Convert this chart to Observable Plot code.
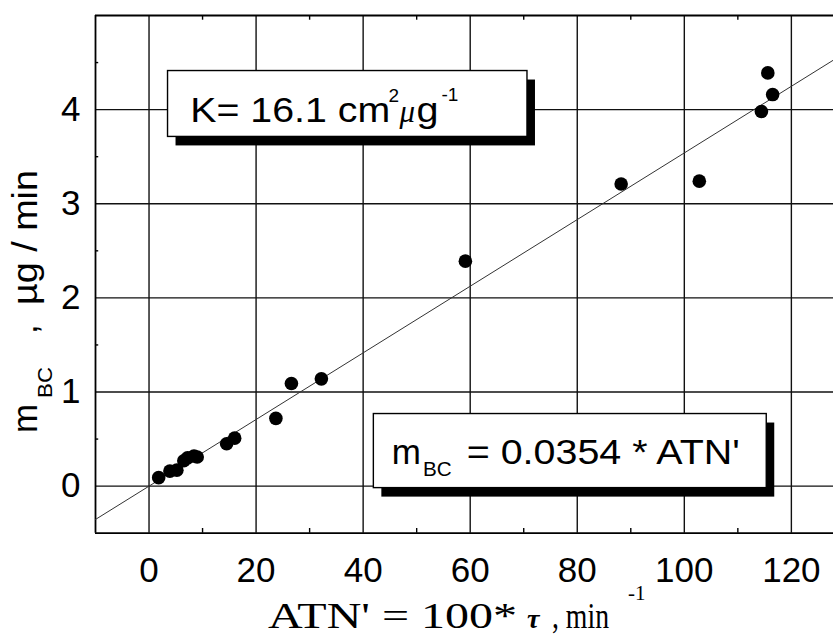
<!DOCTYPE html>
<html>
<head>
<meta charset="utf-8">
<script src="https://cdn.jsdelivr.net/npm/d3@7"></script>
<script src="https://cdn.jsdelivr.net/npm/@observablehq/plot@0.6"></script>
<style>
  html, body { margin: 0; padding: 0; background: #fff; }
  #chart { width: 833px; height: 636px; }
</style>
</head>
<body>
<div id="chart"></div>
<script>
// ---- data ----
const atn = [1.8, 3.9, 5.2, 6.5, 7.2, 8.4, 9.0, 14.5, 16.0, 23.7, 26.6, 32.2, 59.1, 88.2, 102.8, 114.4, 115.6, 116.5];
const mbc = [0.09, 0.16, 0.17, 0.27, 0.30, 0.32, 0.31, 0.45, 0.51, 0.72, 1.09, 1.14, 2.39, 3.21, 3.24, 3.98, 4.39, 4.16];
const slope = 0.0354;
const xTicks = [0, 20, 40, 60, 80, 100, 120];
const yTicks = [0, 1, 2, 3, 4];
const xMinor = [10, 30, 50, 70, 90, 110];
const yMinor = [0.5, 1.5, 2.5, 3.5, 4.5];
const xDomain = [-10, 127.87];
const yDomain = [-0.5, 5];

// annotation boxes (data units)
const notes = [
  {x1: 3.55, x2: 70.7, y1: 4.41, y2: 3.71},
  {x1: 42.0, x2: 115.4, y1: 0.766, y2: -0.021}
];

const points = atn.map((x, i) => ({x, y: mbc[i]}));
const fit = xDomain.map(x => ({x, y: slope * x}));

const plot = Plot.plot({
  width: 833,
  height: 636,
  marginLeft: 95,
  marginRight: 0,
  marginTop: 15,
  marginBottom: 103.3,
  style: {fontFamily: "'Liberation Sans', Arial, sans-serif", background: "#fff", color: "#000"},
  x: {domain: xDomain, label: null},
  y: {domain: yDomain, label: null},
  marks: [
    Plot.ruleX(xTicks, {stroke: "#111", strokeWidth: 1.4}),
    Plot.ruleY(yTicks, {stroke: "#111", strokeWidth: 1.4}),
    Plot.ruleY([yDomain[1], yDomain[0]], {stroke: "#000", strokeWidth: 1.8}),
    Plot.ruleX([xDomain[0]], {stroke: "#000", strokeWidth: 1.8}),
    Plot.ruleX(xMinor, {y1: yDomain[1], y2: yDomain[1] - 0.05, stroke: "#000", strokeWidth: 1.4}),
    Plot.ruleX(xMinor, {y1: yDomain[0], y2: yDomain[0] + 0.05, stroke: "#000", strokeWidth: 1.4}),
    Plot.ruleY(yMinor, {x1: xDomain[0], x2: xDomain[0] + 0.6, stroke: "#000", strokeWidth: 1.4}),
    Plot.line(fit, {x: "x", y: "y", stroke: "#333", strokeWidth: 1, clip: true}),
    Plot.dot(points, {x: "x", y: "y", r: 6.8, fill: "#000", stroke: "none"}),
    Plot.rect(notes, {x1: "x1", x2: "x2", y1: "y1", y2: "y2", fill: "#000", dx: 8, dy: 9}),
    Plot.rect(notes, {x1: "x1", x2: "x2", y1: "y1", y2: "y2", fill: "#fff", stroke: "#000", strokeWidth: 1.4}),
    Plot.axisX(xTicks, {tickSize: 0, tickPadding: 24, fontSize: 35, label: null, tickFormat: d3.format("d")}),
    Plot.axisY(yTicks, {tickSize: 0, tickPadding: 15, fontSize: 35, label: null, tickFormat: d3.format("d")})
  ]
});

document.getElementById("chart").appendChild(plot);

const sx = plot.scale("x"), sy = plot.scale("y");
const svg = d3.select(plot);
const g = svg.append("g").attr("fill", "#000").attr("text-anchor", "start");

function seg(x, y, text, o = {}) {
  const t = g.append("text")
    .attr("x", x).attr("y", y)
    .attr("text-anchor", "start")
    .attr("font-size", o.size || 35)
    .attr("font-family", o.family || "'Liberation Sans', Arial, sans-serif")
    .text(text);
  if (o.italic) t.attr("font-style", "italic");
  if (o.bold) t.attr("font-weight", "bold");
  if (o.len) t.attr("textLength", o.len).attr("lengthAdjust", "spacingAndGlyphs");
  if (o.rotate) {
    t.attr("x", 0).attr("y", 0).attr("transform", `translate(${x},${y}) rotate(-90)`);
  }
  return t;
}

// box 1 text
{
  const L = sx.apply(notes[0].x1), T = sy.apply(notes[0].y1);
  seg(L + 22.7, T + 51.7, "K= 16.1 cm", {len: 200});
  seg(L + 221, T + 31.7, "2", {size: 19});
  seg(L + 232, T + 51.7, "μ", {size: 31, italic: true, family: "'Liberation Serif', serif"});
  seg(L + 249, T + 51.7, "g", {size: 35, len: 22});
  seg(L + 274, T + 30, "-1", {size: 19});
}
// box 2 text
{
  const L = sx.apply(notes[1].x1), T = sy.apply(notes[1].y1);
  seg(L + 18.4, T + 50.3, "m", {size: 35});
  seg(L + 49.7, T + 62.3, "BC", {size: 21, len: 28.7});
  seg(L + 93.4, T + 50.3, "= 0.0354 * ATN'", {size: 35, len: 273});
}
// y axis title
seg(37, 433, "m", {rotate: true});
seg(52, 398, "BC", {size: 21, len: 31, rotate: true});
seg(37, 334, ",", {rotate: true});
seg(37, 305, "µg / min", {rotate: true, len: 135});
// x axis title
{
  const f = "'Liberation Serif', 'Times New Roman', serif";
  seg(268, 628, "ATN' = 100*", {size: 36, family: f, len: 249});
  seg(527, 628, "τ", {size: 28, family: f, italic: true, bold: true});
  seg(552, 628, ", min", {size: 36, family: f, len: 57});
  seg(628, 600, "-1", {size: 21, family: f});
}
</script>
</body>
</html>
